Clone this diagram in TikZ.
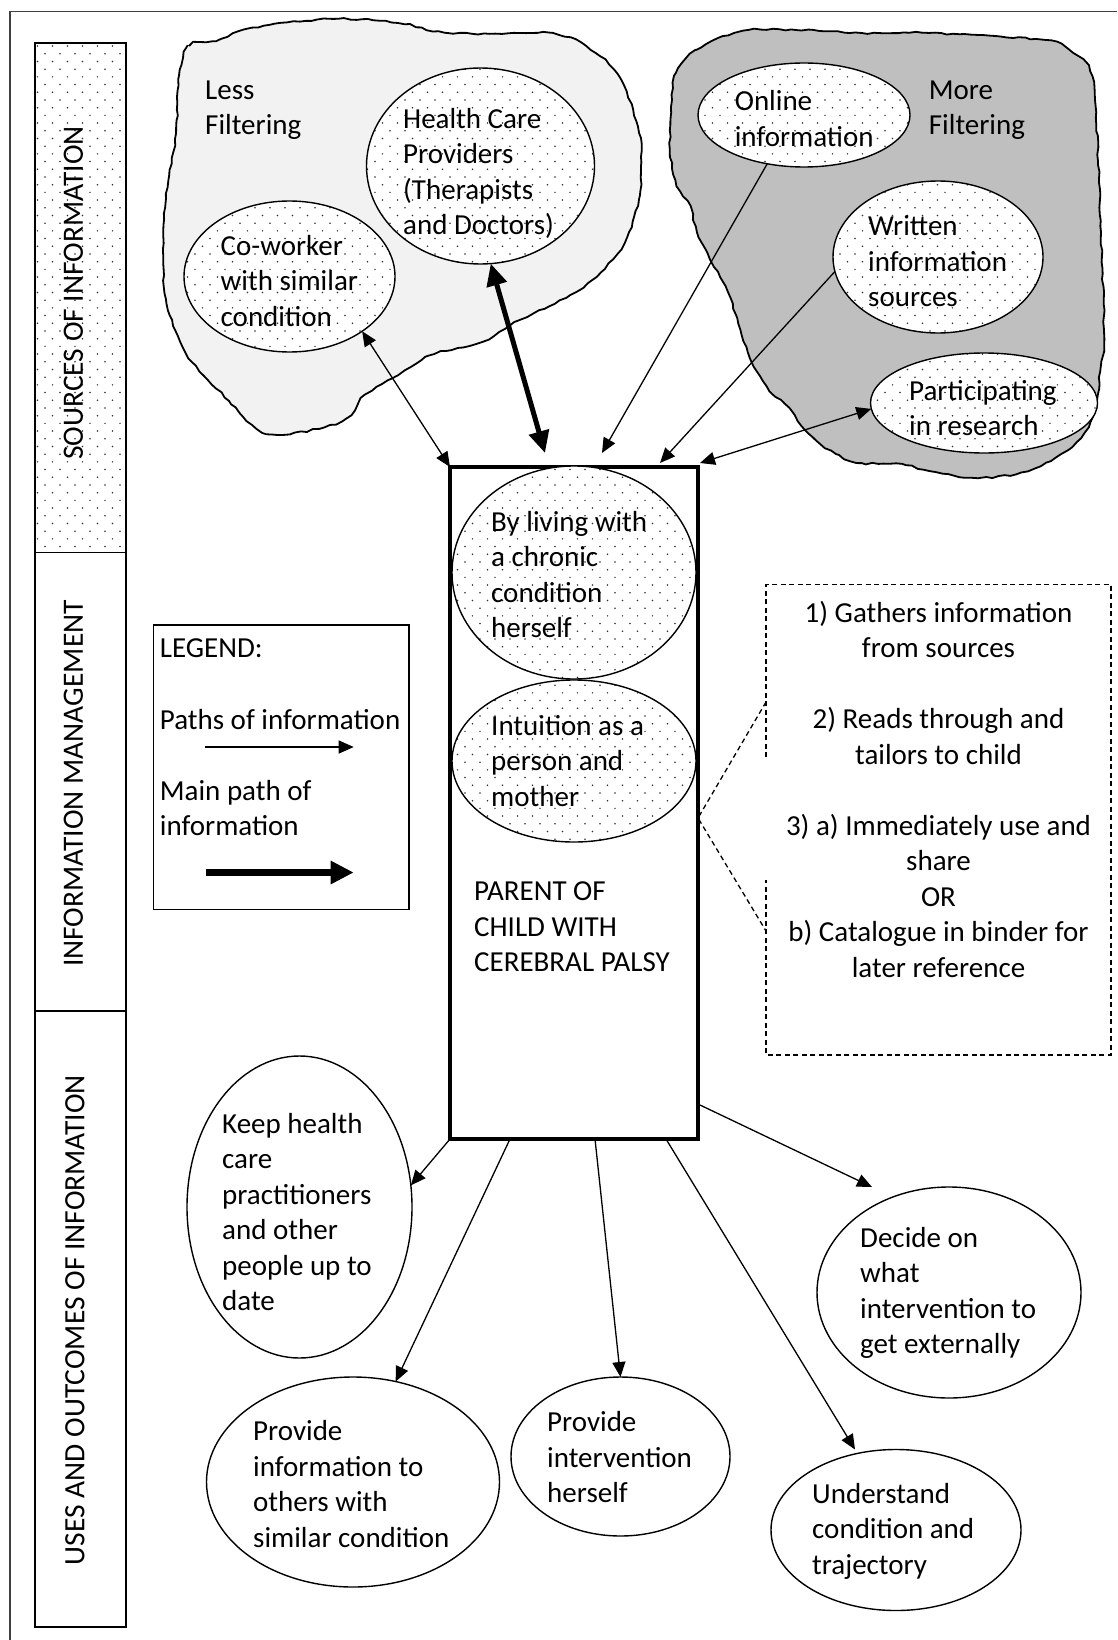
\documentclass[tikz,border=0pt]{standalone}
\usepackage{fontspec}
\setmainfont{Carlito}
\usetikzlibrary{arrows.meta,patterns,shapes.geometric,decorations.pathmorphing,calc}
\definecolor{lightblob}{HTML}{F2F2F2}
\definecolor{darkblob}{HTML}{BFBFBF}
\pgfdeclarepatternformonly{wdots}{\pgfqpoint{-1pt}{-1pt}}{\pgfqpoint{16pt}{16.4pt}}{\pgfqpoint{15pt}{15.4pt}}{%
  \pgfpathcircle{\pgfqpoint{0pt}{0pt}}{0.85pt}%
  \pgfpathcircle{\pgfqpoint{7.5pt}{7.7pt}}{0.85pt}%
  \pgfusepath{fill}}
\tikzset{
  txt/.style={font=\fontsize{29}{35.5}\selectfont, align=left, inner sep=0pt, anchor=west},
  coltxt/.style={font=\fontsize{29.5}{35.5}\selectfont, inner sep=0pt, rotate=90},
  srcell/.style={ellipse, draw, line width=1.4pt, preaction={fill=white}, pattern=wdots, pattern color=black!80, inner sep=0pt, outer sep=0pt},
  outell/.style={ellipse, draw, line width=1.4pt, fill=white, inner sep=0pt, outer sep=0pt},
  colbox/.style={draw, line width=1.5pt, inner sep=0pt, outer sep=0pt, minimum width=91pt},
  arr/.style={line width=1.3pt, -{Triangle[length=15pt,width=13pt]}},
  darr/.style={line width=1.3pt, {Triangle[length=15pt,width=13pt]}-{Triangle[length=15pt,width=13pt]}},
  thickarr/.style={line width=5pt, {Triangle[length=22pt,width=20pt]}-{Triangle[length=22pt,width=20pt]}},
  blob/.style={line width=1.8pt, decorate, decoration={random steps, segment length=6pt, amplitude=0.9pt}},
  dashline/.style={line width=1.3pt, dash pattern=on 5pt off 3.5pt},
}
\pgfmathsetseed{7}
\begin{document}
\begin{tikzpicture}[x=1pt,y=-1pt]
\useasboundingbox (0,0) rectangle (1117,1640);
% outer frame (right and bottom edges lie outside the picture)
\draw[line width=1.6pt, black!75] (1117,11.6) -- (10,11.6) -- (10,1640);

% blobs
\draw[blob, fill=lightblob] plot[smooth cycle, tension=0.6] coordinates {
 (179,76) (189,46) (216,41) (252,28) (332,19) (398,23) (448,33) (520,33) (553,33)
 (586,46) (619,76) (639,133) (641,166) (639,199) (629,232) (613,259) (576,292)
 (520,320) (481,342) (431,355) (398,375) (365,395) (342,421) (279,435) (252,425)
 (229,401) (192,362) (176,332) (166,299) (163,249) (166,199) (176,133)};
\draw[blob, fill=darkblob] plot[smooth cycle, tension=0.6] coordinates {
 (676,73) (696,50) (743,31) (796,30) (862,33) (929,33) (1045,40) (1068,50) (1088,66)
 (1095,100) (1101,232) (1104,332) (1101,365) (1095,411) (1081,438) (1061,454)
 (1028,471) (978,478) (929,471) (902,464) (862,463) (836,454) (809,434) (789,408)
 (770,391) (750,358) (736,315) (723,282) (710,259) (697,232) (690,206) (677,186)
 (670,149) (672,100)};

% source ellipses
\node[srcell, minimum width=228pt, minimum height=196pt] (hc) at (480.5,166) {};
\node[srcell, minimum width=211pt, minimum height=151pt] (cw) at (289.5,276.5) {};
\node[srcell, minimum width=212pt, minimum height=104pt] (on) at (804,115) {};
\node[srcell, minimum width=210pt, minimum height=152pt] (wr) at (938,257) {};
\node[srcell, minimum width=227pt, minimum height=100pt] (par) at (984,403) {};

% left column
\node[colbox, minimum height=509.4pt, preaction={fill=white}, pattern=wdots, pattern color=black!80] (colA) at (80.5,297.7) {};
\node[colbox, minimum height=458.6pt] (colB) at (80.5,781.7) {};
\node[colbox, minimum height=616pt] (colC) at (80.5,1319) {};
\node[coltxt] (colAt) at (73.5,293) {SOURCES OF INFORMATION};
\node[coltxt] (colBt) at (73.5,783.5) {INFORMATION MANAGEMENT};
\node[coltxt] (colCt) at (75,1320) {USES AND OUTCOMES OF INFORMATION};

% legend
\node[draw, line width=1.3pt, minimum width=255.3pt, minimum height=284.6pt, inner sep=0pt, outer sep=0pt] (legend) at (281.35,767.3) {};
\node[txt] (lg1) at (159.7,648.6) {LEGEND:};
\node[txt] (lg2) at (159.7,719.6) {Paths of information};
\node[txt] (lg3) at (159.7,808) {Main path of\\information};
\coordinate (l1a) at (204.8,747);
\coordinate (l1b) at (353.7,747);
\coordinate (l2a) at (205.5,872.5);
\coordinate (l2b) at (353.7,872.5);
\draw[arr] (l1a) -- (l1b);
\draw[line width=6.5pt, -{Triangle[length=23pt,width=22pt]}] (l2a) -- (l2b);

% parent box
\node[draw, line width=4pt, fill=white, minimum width=248pt, minimum height=672pt, inner sep=0pt, outer sep=0pt] (parent) at (574,803) {};
\node[srcell, minimum width=244pt, minimum height=213pt] (living) at (574,572.5) {};
\node[srcell, minimum width=244pt, minimum height=162pt] (intu) at (574,761) {};

% dashed box
\node[minimum width=345pt, minimum height=470.4pt, inner sep=0pt, outer sep=0pt] (dbox) at (938.5,819.8) {};
\draw[dashline] ($(dbox.north west)+(0,172.4)$) -- (dbox.north west) -- (dbox.north east)
  -- (dbox.south east) -- (dbox.south west) -- ($(dbox.south west)+(0,-175)$);
\coordinate (apex) at ($(parent.east)+(0,15)$);
\draw[dashline] ($(dbox.north west)+(0,117.4)$) -- (apex) -- ($(dbox.south west)+(0,-124)$);
\node[font=\fontsize{29}{35.5}\selectfont, align=center, inner sep=0pt] (dboxt) at (938.5,789.4)
 {1) Gathers information\\from sources\\[35.5pt]2) Reads through and\\tailors to child\\[35.5pt]3) a) Immediately use and\\share\\OR\\b) Catalogue in binder for\\later reference};

% outcome ellipses
\node[outell, minimum width=225pt, minimum height=302pt] (keep) at (299.5,1207) {};
\node[outell, minimum width=293pt, minimum height=210pt] (pinfo) at (353,1482) {};
\node[outell, minimum width=219pt, minimum height=159pt] (pint) at (620.5,1456.5) {};
\node[outell, minimum width=264pt, minimum height=211pt] (dec) at (949,1292.5) {};
\node[outell, minimum width=250pt, minimum height=161pt] (und) at (896,1530) {};

% arrows into parent
\coordinate (pHC) at ($(parent.north west)+(95,-14)$);
\coordinate (pOn) at ($(parent.north west)+(152,-14)$);
\coordinate (pWr) at ($(parent.north west)+(210,-4)$);
\coordinate (pPa) at ($(parent.north east)+(2,-4)$);
\draw[darr] (cw.-37) -- (parent.north west);
\draw[thickarr] (hc.-84) -- (pHC);
\draw[arr] (on.-127) -- (pOn);
\draw[arr] (wr.-172) -- (pWr);
\draw[darr] (par.-177) -- (pPa);

% arrows out of parent
\coordinate (pB1) at ($(parent.south west)+(60,0)$);
\coordinate (pB2) at ($(parent.south west)+(145,0)$);
\coordinate (pB3) at ($(parent.south west)+(216,0)$);
\coordinate (pB4) at ($(parent.south east)+(2,-34)$);
\draw[arr] (parent.south west) -- (keep.11);
\draw[arr] (pB1) -- (pinfo.67);
\draw[arr] (pB2) -- (pint.north);
\draw[arr] (pB3) -- ([xshift=-41pt]und.north);
\draw[arr] (pB4) -- ([xshift=-77pt]dec.north);

% texts
\node[txt] (lessf) at (205,110) {Less\\Filtering};
\node[txt] (moref) at (928.7,110) {More\\Filtering};
\node[txt] (hct) at (403,173.5) {Health Care\\Providers\\(Therapists\\and Doctors)};
\node[txt] (cwt) at (220.5,281) {Co-worker\\with similar\\condition};
\node[txt] (ont) at (734.6,118.5) {Online\\information};
\node[txt] (wrt) at (868,261.3) {Written\\information\\sources};
\node[txt] (part) at (909,408) {Participating\\in research};
\node[txt] (livingt) at (491,574.6) {By living with\\a chronic\\condition\\herself};
\node[txt] (intut) at (491,761) {Intuition as a\\person and\\mother};
\node[txt] (parentt) at (474,927) {PARENT OF\\CHILD WITH\\CEREBRAL PALSY};
\node[txt] (keept) at (222,1212) {Keep health\\care\\practitioners\\and other\\people up to\\date};
\node[txt] (pinfot) at (253,1484) {Provide\\information to\\others with\\similar condition};
\node[txt] (pintt) at (547,1457.5) {Provide\\intervention\\herself};
\node[txt] (dect) at (860,1293) {Decide on\\what\\intervention to\\get externally};
\node[txt] (undt) at (812,1531) {Understand\\condition and\\trajectory};
\end{tikzpicture}
\end{document}
